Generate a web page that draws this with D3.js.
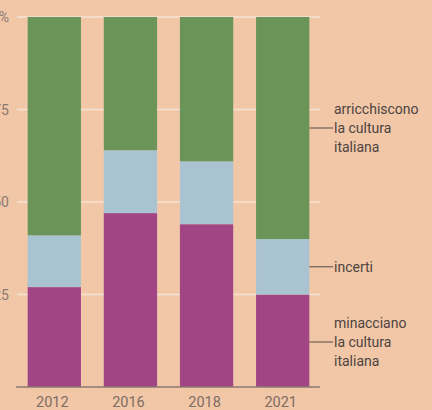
<!DOCTYPE html>
<html><head><meta charset="utf-8">
<script src="https://cdn.jsdelivr.net/npm/d3@7/dist/d3.min.js"></script>
<style>html,body{margin:0;padding:0;background:#f1c7a8;}svg{display:block;}</style>
</head><body>
<svg id="c" width="432" height="410"></svg>
<script>
const years = ["2012", "2016", "2018", "2021"];
const minacciano = [27, 47, 44, 25];
const incerti = [14, 17, 17, 15];
const arricchiscono = [59, 36, 39, 60];
const yTicks = [25, 50, 75, 100];
const yTickLabels = ["25", "50", "75", "100%"];
const seriesNames = ["minacciano", "incerti", "arricchiscono"];
const seriesLabels = [["minacciano", "la cultura", "italiana"], ["incerti"], ["arricchiscono", "la cultura", "italiana"]];
const colors = ["#a14584", "#a9c3d0", "#6b9558"];

const svg = d3.select("#c");
const x = d3.scaleBand().domain(years).range([17, 320]).paddingInner(0.3).paddingOuter(0.14);
const y = d3.scaleLinear().domain([0, 100]).range([387, 17]);

const rows = years.map((yr, i) => ({year: yr, minacciano: minacciano[i], incerti: incerti[i], arricchiscono: arricchiscono[i]}));
const stack = d3.stack().keys(seriesNames)(rows);

// gridlines
svg.append("g").selectAll("line").data(yTicks).join("line")
  .attr("x1", 17).attr("x2", 320)
  .attr("y1", d => y(d)).attr("y2", d => y(d))
  .attr("stroke", "#f6e2d4").attr("stroke-width", 1.5);

// y tick labels (cropped at the left edge, as in the reference)
svg.append("g").selectAll("text").data(yTicks).join("text")
  .attr("x", 9).attr("y", d => y(d) + 5)
  .attr("text-anchor", "end")
  .attr("font-family", "Roboto, sans-serif").attr("font-size", 14)
  .attr("fill", "#8a7a72")
  .text((d, i) => yTickLabels[i]);

// bars
svg.append("g").selectAll("g").data(stack).join("g")
  .attr("fill", (d, i) => colors[i])
  .selectAll("rect").data(d => d).join("rect")
  .attr("x", d => x(d.data.year))
  .attr("width", x.bandwidth())
  .attr("y", d => y(d[1]))
  .attr("height", d => y(d[0]) - y(d[1]));

// baseline
svg.append("line").attr("x1", 16).attr("x2", 320).attr("y1", y(0)).attr("y2", y(0))
  .attr("stroke", "#8a7a70").attr("stroke-width", 1.5);

// x labels
svg.append("g").selectAll("text").data(years).join("text")
  .attr("x", d => x(d) + x.bandwidth() / 2 - 2).attr("y", 407)
  .attr("text-anchor", "middle")
  .attr("font-family", "Roboto, sans-serif").attr("font-size", 14.5)
  .attr("fill", "#7d6c62")
  .text(d => d);

// series labels on right
const last = stack.map(s => s[s.length - 1]);
const barRight = x(years[years.length - 1]) + x.bandwidth();
const lg = svg.append("g");
last.forEach((seg, i) => {
  let cy = (y(seg[0]) + y(seg[1])) / 2;
  if (i === 0) cy = 342;
  if (i === 2) cy = 128;
  lg.append("line").attr("x1", barRight).attr("x2", 333).attr("y1", cy).attr("y2", cy)
    .attr("stroke", "#6e5f58").attr("stroke-width", 1.2);
  const lines = seriesLabels[i];
  const n = lines.length;
  lines.forEach((t, k) => {
    lg.append("text").attr("x", 334).attr("y", cy + (k - (n - 1) / 2) * 19 + 5)
      .attr("font-family", "Roboto, sans-serif").attr("font-size", 14)
      .attr("fill", "#4d4340").text(t);
  });
});
</script>
</body></html>
